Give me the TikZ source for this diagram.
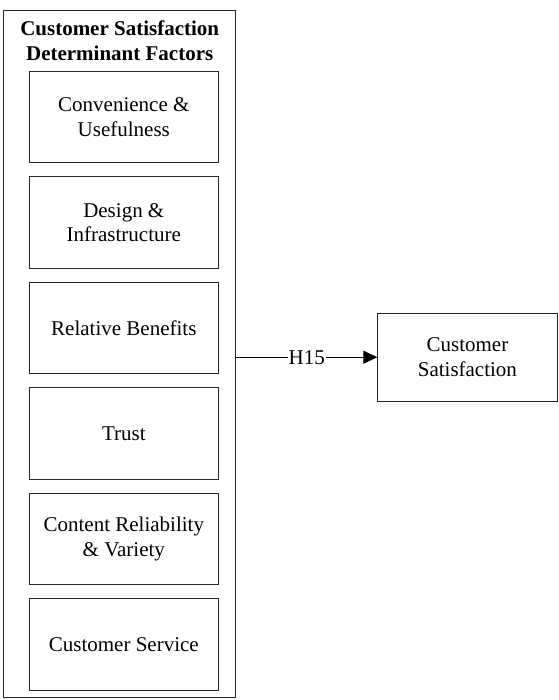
\documentclass[tikz,border=0pt]{standalone}
\usepackage{fontspec}
\setmainfont{Liberation Serif}
\usetikzlibrary{arrows.meta}
\begin{document}
\begin{tikzpicture}[x=1pt,y=1pt,
  every node/.style={font=\fontsize{21}{24.5}\selectfont},
  frame/.style={draw=black!85, line width=0.9pt, rectangle, inner sep=0pt},
  factor/.style={frame, minimum width=189pt, minimum height=91.5pt, align=center},
  link/.style={draw=black, line width=0.9pt, -{Triangle[length=14pt,width=13pt]}}]
\useasboundingbox (0,0) rectangle (558,700);
\node[frame, minimum width=232.4pt, minimum height=686.8pt] (outer) at (119.5,345.9) {};
\node[align=center, inner sep=0pt, font=\fontsize{21}{25}\selectfont\bfseries] (title) at (119.7,659.6) {Customer Satisfaction\\Determinant Factors};
\node[factor] (f1) at (123.8,583.0) {Convenience \&\\Usefulness};
\node[factor] (f2) at (123.8,477.5) {Design \&\\Infrastructure};
\node[factor] (f3) at (123.8,372.0) {Relative Benefits};
\node[factor] (f4) at (123.8,266.5) {Trust};
\node[factor] (f5) at (123.8,161.0) {Content Reliability\\\& Variety};
\node[factor] (f6) at (123.8,55.5) {Customer Service};
\node[frame, minimum width=179.3pt, minimum height=87.7pt, align=center] (cs) at (467.4,342.8) {Customer\\Satisfaction};
\draw[link] (outer.east |- cs.west) -- node[fill=white, inner sep=1pt] (h15) {H15} (cs.west);
\end{tikzpicture}
\end{document}
